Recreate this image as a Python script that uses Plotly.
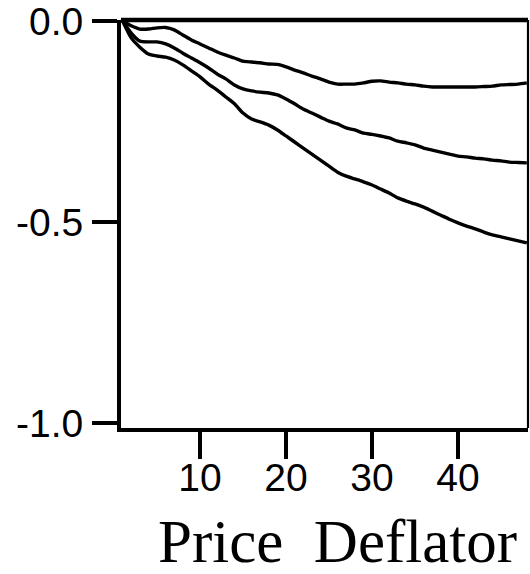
import plotly.graph_objects as go

horizon = list(range(1, 49))

upper = [0.0, -0.012, -0.020, -0.020, -0.017, -0.016, -0.022, -0.035, -0.047, -0.057,
         -0.067, -0.077, -0.085, -0.092, -0.100, -0.102, -0.104, -0.107, -0.108, -0.114,
         -0.122, -0.129, -0.137, -0.144, -0.152, -0.157, -0.157, -0.157, -0.154, -0.150,
         -0.149, -0.152, -0.154, -0.157, -0.159, -0.162, -0.164, -0.164, -0.164, -0.164,
         -0.164, -0.164, -0.163, -0.162, -0.159, -0.158, -0.157, -0.154]

middle = [0.0, -0.030, -0.050, -0.052, -0.052, -0.057, -0.067, -0.080, -0.092, -0.104,
          -0.117, -0.132, -0.144, -0.159, -0.169, -0.174, -0.177, -0.179, -0.184, -0.194,
          -0.206, -0.219, -0.229, -0.239, -0.249, -0.256, -0.266, -0.271, -0.279, -0.282,
          -0.286, -0.291, -0.299, -0.303, -0.308, -0.316, -0.321, -0.326, -0.331, -0.336,
          -0.338, -0.341, -0.343, -0.346, -0.348, -0.351, -0.352, -0.353]

lower = [0.0, -0.042, -0.065, -0.082, -0.087, -0.090, -0.097, -0.109, -0.124, -0.139,
         -0.157, -0.172, -0.189, -0.206, -0.229, -0.244, -0.251, -0.259, -0.271, -0.286,
         -0.301, -0.316, -0.331, -0.346, -0.361, -0.376, -0.386, -0.393, -0.400, -0.408,
         -0.418, -0.428, -0.440, -0.448, -0.455, -0.463, -0.473, -0.483, -0.493, -0.502,
         -0.510, -0.517, -0.525, -0.532, -0.537, -0.542, -0.547, -0.552]

x_ticks = [10, 20, 30, 40]
y_ticks = [0.0, -0.5, -1.0]
y_tick_text = ["0.0", "-0.5", "-1.0"]
x_title = "Price\u00a0\u00a0Deflator"

fig = go.Figure()
for series in (upper, middle, lower):
    fig.add_trace(go.Scatter(x=horizon, y=series, mode="lines",
                             line=dict(color="black", width=3.4, shape="spline", smoothing=0.6),
                             showlegend=False, hoverinfo="skip"))

fig.update_layout(
    width=530, height=574,
    margin=dict(l=121, r=2, t=20, b=146),
    paper_bgcolor="white", plot_bgcolor="white",
    font=dict(family="Liberation Sans, Arial, sans-serif", size=39, color="black"),
    xaxis=dict(range=[0.81, 48.14], tickvals=x_ticks, ticktext=[str(v) for v in x_ticks],
               showgrid=False, zeroline=False, showline=True, linecolor="black", linewidth=4,
               ticks="outside", ticklen=27, tickwidth=4, tickcolor="black",
               tickfont=dict(size=39), automargin=False, ticklabeloverflow="allow",
               ticklabelstandoff=-15),
    yaxis=dict(range=[-1.0124, 0.0025], tickvals=y_ticks, ticktext=y_tick_text,
               showgrid=False, zeroline=False, showline=True, linecolor="black", linewidth=4,
               ticks="outside", ticklen=25, tickwidth=4, tickcolor="black",
               tickfont=dict(size=39), automargin=False, ticklabeloverflow="allow",
               ticklabelstandoff=1),
    shapes=[
        dict(type="line", xref="paper", yref="paper", x0=0, x1=1, y0=1, y1=1,
             line=dict(color="black", width=4.5)),
        dict(type="line", xref="paper", yref="paper", x0=1, x1=1, y0=0, y1=1,
             line=dict(color="black", width=2.2)),
    ],
    annotations=[
        dict(text=x_title, xref="paper", yref="paper", x=0.533, y=-0.365,
             xanchor="center", yanchor="bottom", showarrow=False,
             font=dict(family="Liberation Serif, Times New Roman, serif", size=61, color="black")),
    ],
)

fig.write_html("out.html", config={"displayModeBar": False},
               post_script="document.body.style.margin='0';document.body.style.overflow='hidden';")
